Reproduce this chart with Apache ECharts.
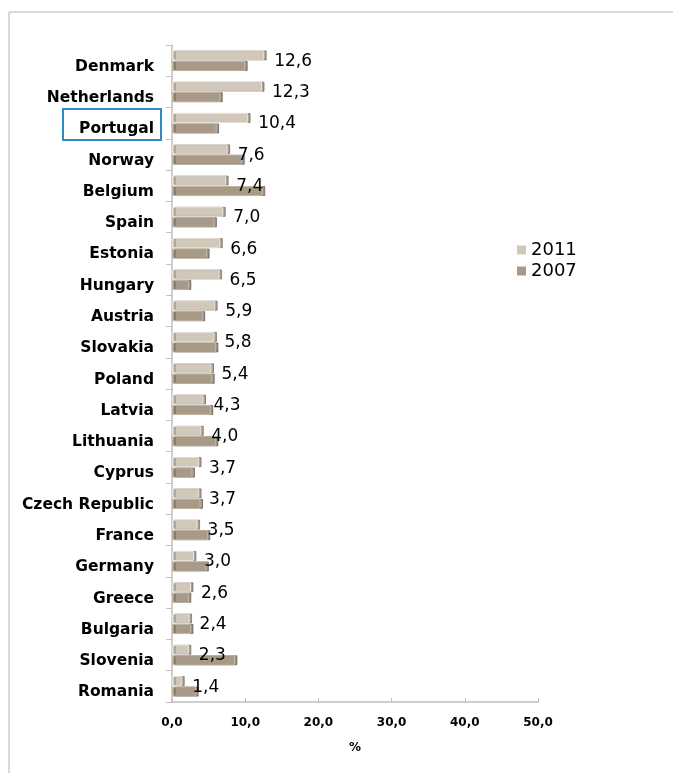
<!DOCTYPE html>
<html>
<head>
<meta charset="utf-8">
<script src="https://cdn.jsdelivr.net/npm/echarts@6/dist/echarts.min.js"></script>
<style>
html,body{margin:0;padding:0;background:#fff;}
#chart{width:673px;height:773px;}
</style>
</head>
<body>
<div id="chart"></div>
<script>
var countries = ["Denmark","Netherlands","Portugal","Norway","Belgium","Spain","Estonia","Hungary","Austria","Slovakia","Poland","Latvia","Lithuania","Cyprus","Czech Republic","France","Germany","Greece","Bulgaria","Slovenia","Romania"];
var values2011 = [12.6,12.3,10.4,7.6,7.4,7.0,6.6,6.5,5.9,5.8,5.4,4.3,4.0,3.7,3.7,3.5,3.0,2.6,2.4,2.3,1.4];
var values2007 = [10.0,6.6,6.1,9.6,12.4,5.8,4.8,2.3,4.2,6.0,5.5,5.3,6.0,2.8,3.9,4.9,4.7,2.3,2.6,8.6,3.3];
var seriesNames = ["2011","2007"];
var xTicks = {min:0, max:50, interval:10};

var chart = echarts.init(document.getElementById('chart'), null, {renderer:'canvas'});
function fmt(v){ return v.toFixed(1).replace('.', ','); }
var option = {
  animation:false,
  backgroundColor:'#ffffff',
  textStyle:{fontFamily:'DejaVu Sans'},
  grid:{left:172, right:135, top:45, height:657, containLabel:false},
  legend:{
    orient:'vertical', left:512, top:236, itemWidth:9, itemHeight:9, itemGap:3,
    icon:'rect',
    itemStyle:{borderWidth:0, shadowColor:'rgba(0,0,0,0)', shadowOffsetX:0},
    textStyle:{fontFamily:'DejaVu Sans', fontSize:18, color:'#000'},
    data:seriesNames
  },
  xAxis:{
    type:'value', min:xTicks.min, max:xTicks.max, interval:xTicks.interval,
    name:'%', nameLocation:'middle', nameGap:40,
    nameTextStyle:{fontFamily:'DejaVu Sans', fontWeight:'bold', fontSize:12, color:'#000'},
    axisLine:{show:true, lineStyle:{color:'#bfbfbf', width:1.5}},
    axisTick:{show:true, inside:true, length:4, lineStyle:{color:'#bfbfbf'}},
    axisLabel:{formatter:function(v){return fmt(v);}, margin:15, fontFamily:'DejaVu Sans', fontWeight:'bold', fontSize:12, color:'#000'},
    splitLine:{show:false}
  },
  yAxis:{
    type:'category', inverse:true, data:countries,
    axisLine:{show:true, lineStyle:{color:'#bfbfbf', width:1.5}},
    axisTick:{show:true, length:6, lineStyle:{color:'#bfbfbf'}},
    axisLabel:{margin:18, formatter:function(v){return '{c|' + v + '}';},
      rich:{c:{fontFamily:'DejaVu Sans', fontWeight:'bold', fontSize:15.5, color:'#000', padding:[12,0,0,0]}}}
  },
  series:[
    {
      name:seriesNames[0], type:'bar', data:values2011, barWidth:10, barGap:'5%',
      itemStyle:{color:'#d2c8ba', borderColor:'#e9e4dc', borderWidth:1,
        shadowColor:'rgba(90,80,70,0.55)', shadowOffsetX:2.5, shadowOffsetY:0, shadowBlur:0},
      label:{show:true, position:'right', distance:10, offset:[0,6],
        formatter:function(p){return fmt(p.value);},
        fontFamily:'DejaVu Sans', fontSize:17, color:'#000'}
    },
    {
      name:seriesNames[1], type:'bar', data:values2007, barWidth:10,
      itemStyle:{color:'#a89a86', borderColor:'#c4b8a8', borderWidth:1,
        shadowColor:'rgba(70,60,50,0.55)', shadowOffsetX:2.5, shadowOffsetY:0, shadowBlur:0}
    }
  ],
  graphic:[
    {type:'line', shape:{x1:9, y1:12, x2:673, y2:12}, style:{stroke:'#d9d9d9', lineWidth:2}},
    {type:'line', shape:{x1:9, y1:12, x2:9, y2:773}, style:{stroke:'#d9d9d9', lineWidth:2}},
    {type:'rect', shape:{x:63, y:109, width:98, height:31}, style:{fill:'none', stroke:'#2e8bc9', lineWidth:2}}
  ]
};
chart.setOption(option);
</script>
</body>
</html>
